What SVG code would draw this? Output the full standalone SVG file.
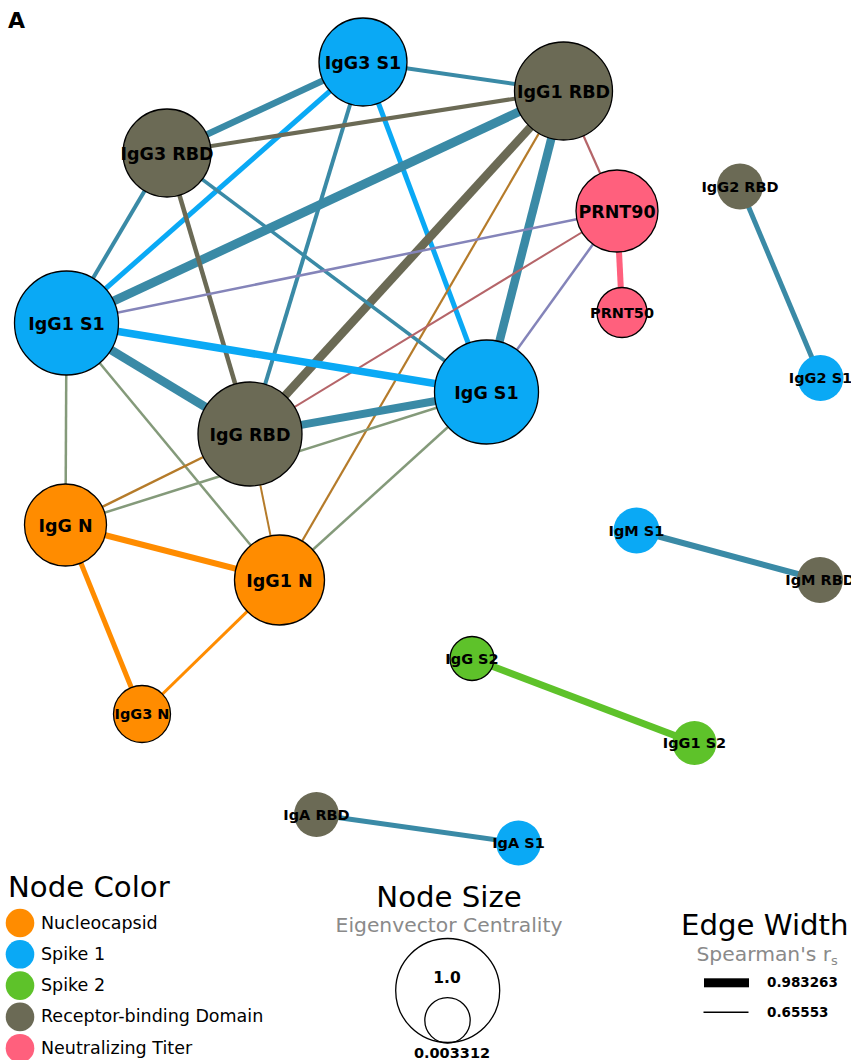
<svg xmlns="http://www.w3.org/2000/svg" width="851" height="1060" viewBox="0 0 851 1060">
<style>
  text { font-family: "DejaVu Sans", "Liberation Sans", sans-serif; }
  .lb { font-weight: bold; font-size: 17.5px; text-anchor: middle; fill: #000; }
  .ls { font-weight: bold; font-size: 14.5px; text-anchor: middle; fill: #000; }
  .ns { stroke: #000; stroke-width: 1.3; }
  .N { fill: #ff8c00; }
  .S1 { fill: #0aa9f5; }
  .S2 { fill: #5ec22a; }
  .R { fill: #6b6a55; }
  .P { fill: #ff607d; }
  #edges line { stroke-linecap: butt; }
  .tl { stroke: #3a8aa6; }
  .bl { stroke: #0aa9f5; }
  .gr { stroke: #6b6a55; }
  .br { stroke: #b57b2a; }
  .rd { stroke: #b56569; }
  .pu { stroke: #8484b9; }
  .sg { stroke: #849a7a; }
  .or { stroke: #ff8c00; }
  .gn { stroke: #5ec22a; }
  .pk { stroke: #ff607d; }
  .h1 { font-size: 29.2px; fill: #000; }
  .h2 { font-size: 20.3px; fill: #8a8a8a; }
  .lg { font-size: 17.5px; fill: #000; }
  .nb { font-weight: bold; font-size: 13.5px; fill: #000; }
</style>

<text x="8" y="27.5" style="font-weight:bold;font-size:22px">A</text>

<g id="edges">
  <line class="tl" x1="363" y1="62" x2="563.5" y2="91" stroke-width="4"/>
  <line class="tl" x1="363" y1="62" x2="167" y2="153" stroke-width="6.5"/>
  <line class="bl" x1="363" y1="62" x2="66.5" y2="323" stroke-width="5"/>
  <line class="tl" x1="363" y1="62" x2="250" y2="434" stroke-width="4"/>
  <line class="bl" x1="363" y1="62" x2="486.5" y2="392" stroke-width="5"/>
  <line class="gr" x1="563.5" y1="91" x2="167" y2="153" stroke-width="4"/>
  <line class="tl" x1="563.5" y1="91" x2="66.5" y2="323" stroke-width="9"/>
  <line class="gr" x1="563.5" y1="91" x2="250" y2="434" stroke-width="8.5"/>
  <line class="br" x1="563.5" y1="91" x2="279.5" y2="580" stroke-width="2.2"/>
  <line class="tl" x1="563.5" y1="91" x2="486.5" y2="392" stroke-width="8.5"/>
  <line class="rd" x1="563.5" y1="91" x2="617" y2="211" stroke-width="2.2"/>
  <line class="tl" x1="167" y1="153" x2="66.5" y2="323" stroke-width="4"/>
  <line class="gr" x1="167" y1="153" x2="250" y2="434" stroke-width="4.5"/>
  <line class="tl" x1="167" y1="153" x2="486.5" y2="392" stroke-width="3.5"/>
  <line class="pu" x1="617" y1="211" x2="66.5" y2="323" stroke-width="2.5"/>
  <line class="rd" x1="617" y1="211" x2="250" y2="434" stroke-width="2"/>
  <line class="pu" x1="617" y1="211" x2="486.5" y2="392" stroke-width="2.5"/>
  <line class="pk" x1="617" y1="211" x2="622" y2="312.5" stroke-width="6"/>
  <line class="bl" x1="66.5" y1="323" x2="486.5" y2="392" stroke-width="7.5"/>
  <line class="tl" x1="66.5" y1="323" x2="250" y2="434" stroke-width="8.5"/>
  <line class="sg" x1="66.5" y1="323" x2="65.5" y2="525" stroke-width="2.5"/>
  <line class="sg" x1="66.5" y1="323" x2="279.5" y2="580" stroke-width="2.5"/>
  <line class="tl" x1="250" y1="434" x2="486.5" y2="392" stroke-width="8"/>
  <line class="br" x1="250" y1="434" x2="65.5" y2="525" stroke-width="2.5"/>
  <line class="br" x1="250" y1="434" x2="279.5" y2="580" stroke-width="2"/>
  <line class="sg" x1="486.5" y1="392" x2="65.5" y2="525" stroke-width="2.5"/>
  <line class="sg" x1="486.5" y1="392" x2="279.5" y2="580" stroke-width="2.5"/>
  <line class="or" x1="65.5" y1="525" x2="279.5" y2="580" stroke-width="6"/>
  <line class="or" x1="65.5" y1="525" x2="142" y2="714" stroke-width="5"/>
  <line class="or" x1="279.5" y1="580" x2="142" y2="714" stroke-width="3"/>
  <line class="tl" x1="740" y1="186.5" x2="820.5" y2="378" stroke-width="5"/>
  <line class="tl" x1="636.5" y1="530.5" x2="820" y2="580" stroke-width="6"/>
  <line class="gn" x1="472" y1="658.5" x2="694.5" y2="743" stroke-width="7"/>
  <line class="tl" x1="316.5" y1="814.5" x2="518.5" y2="843" stroke-width="5"/>
</g>

<g id="n-igg3s1"><circle class="S1 ns" cx="363" cy="62" r="44"/><text class="lb" x="363" y="68.5">IgG3 S1</text></g>
<g id="n-igg1rbd"><circle class="R ns" cx="563.5" cy="91" r="49"/><text class="lb" x="563.5" y="97.5">IgG1 RBD</text></g>
<g id="n-igg3rbd"><circle class="R ns" cx="167" cy="153" r="44"/><text class="lb" x="167" y="159.5">IgG3 RBD</text></g>
<g id="n-prnt90"><circle class="P ns" cx="617" cy="211" r="41"/><text class="lb" x="617" y="217.5">PRNT90</text></g>
<g id="n-igg2rbd"><circle class="R" cx="740" cy="186.5" r="23"/><text class="ls" x="740" y="191.5">IgG2 RBD</text></g>
<g id="n-igg1s1"><circle class="S1 ns" cx="66.5" cy="323" r="52"/><text class="lb" x="66.5" y="329.5">IgG1 S1</text></g>
<g id="n-prnt50"><circle class="P ns" cx="622" cy="312.5" r="25"/><text class="ls" x="622" y="317.5">PRNT50</text></g>
<g id="n-iggs1"><circle class="S1 ns" cx="486.5" cy="392" r="52"/><text class="lb" x="486.5" y="398.5">IgG S1</text></g>
<g id="n-igg2s1"><circle class="S1" cx="820.5" cy="378" r="23"/><text class="ls" x="820.5" y="383">IgG2 S1</text></g>
<g id="n-iggrbd"><circle class="R ns" cx="250" cy="434" r="52"/><text class="lb" x="250" y="440.5">IgG RBD</text></g>
<g id="n-iggn"><circle class="N ns" cx="65.5" cy="525" r="41"/><text class="lb" x="65.5" y="531.5">IgG N</text></g>
<g id="n-igg1n"><circle class="N ns" cx="279.5" cy="580" r="45"/><text class="lb" x="279.5" y="586.5">IgG1 N</text></g>
<g id="n-igms1"><circle class="S1" cx="636.5" cy="530.5" r="23"/><text class="ls" x="636.5" y="535.5">IgM S1</text></g>
<g id="n-igmrbd"><circle class="R" cx="820" cy="580" r="23"/><text class="ls" x="820" y="585">IgM RBD</text></g>
<g id="n-iggs2"><circle class="S2 ns" cx="472" cy="658.5" r="22"/><text class="ls" x="472" y="663.5">IgG S2</text></g>
<g id="n-igg3n"><circle class="N ns" cx="142" cy="714" r="28.5"/><text class="ls" x="142" y="719">IgG3 N</text></g>
<g id="n-igg1s2"><circle class="S2" cx="694.5" cy="743" r="22"/><text class="ls" x="694.5" y="748">IgG1 S2</text></g>
<g id="n-igarbd"><circle class="R" cx="316.5" cy="814.5" r="22.5"/><text class="ls" x="316.5" y="819.5">IgA RBD</text></g>
<g id="n-igas1"><circle class="S1" cx="518.5" cy="843" r="22.5"/><text class="ls" x="518.5" y="848">IgA S1</text></g>

<g id="legend-color">
  <text class="h1" x="8" y="897">Node Color</text>
  <circle class="N" cx="20" cy="923" r="14.3"/><text class="lg" x="41" y="928.5">Nucleocapsid</text>
  <circle class="S1" cx="20" cy="954.3" r="14.3"/><text class="lg" x="41" y="959.8">Spike 1</text>
  <circle class="S2" cx="20" cy="985.6" r="14.3"/><text class="lg" x="41" y="991.1">Spike 2</text>
  <circle class="R" cx="20" cy="1016.9" r="14.3"/><text class="lg" x="41" y="1022.4">Receptor-binding Domain</text>
  <circle class="P" cx="20" cy="1048.2" r="14.3"/><text class="lg" x="41" y="1053.7">Neutralizing Titer</text>
</g>

<g id="legend-size">
  <text class="h1" x="449" y="907" text-anchor="middle">Node Size</text>
  <text class="h2" x="449" y="932" text-anchor="middle">Eigenvector Centrality</text>
  <circle cx="447.7" cy="990.5" r="52" fill="none" stroke="#000" stroke-width="1.3"/>
  <circle cx="447.5" cy="1020.3" r="22.7" fill="none" stroke="#000" stroke-width="1.3"/>
  <text x="447" y="983" text-anchor="middle" style="font-weight:bold;font-size:15.5px">1.0</text>
  <text x="452" y="1058" text-anchor="middle" style="font-weight:bold;font-size:14.5px">0.003312</text>
</g>

<g id="legend-width">
  <text class="h1" x="681" y="935">Edge Width</text>
  <text class="h2" x="696.5" y="961">Spearman's r<tspan font-size="13" dy="4">s</tspan></text>
  <rect x="704" y="978.3" width="45" height="9" fill="#000"/>
  <line x1="703.5" y1="1012.3" x2="748.5" y2="1012.3" stroke="#000" stroke-width="1.4"/>
  <text class="nb" x="767" y="987">0.983263</text>
  <text class="nb" x="767" y="1016.7">0.65553</text>
</g>
</svg>
